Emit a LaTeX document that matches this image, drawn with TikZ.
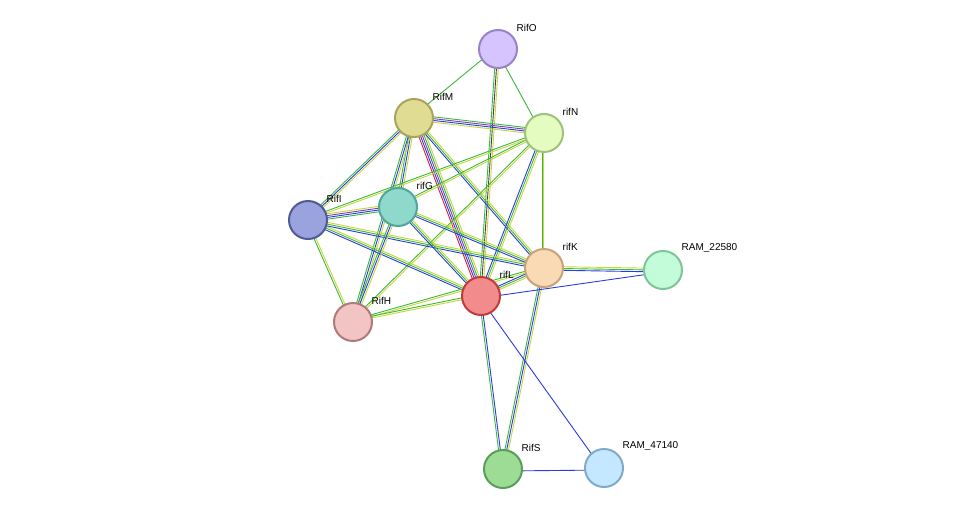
\documentclass[tikz,border=0pt]{standalone}
\usepackage{fontspec}
\setmainfont{Liberation Sans}
\usetikzlibrary{calc}
\definecolor{lgreen}{HTML}{3CB83C}
\definecolor{lblue}{HTML}{2B3BE0}
\definecolor{lpurple}{HTML}{7A3FB8}
\definecolor{lyellow}{HTML}{C5D83A}
\definecolor{lred}{HTML}{E02020}
\definecolor{ldark}{HTML}{444444}
\definecolor{oline}{HTML}{9A82C8}\definecolor{ofill}{HTML}{D5C4FF}
\definecolor{mline}{HTML}{A8A55A}\definecolor{mfill}{HTML}{E0DC94}
\definecolor{nline}{HTML}{9EC27A}\definecolor{nfill}{HTML}{E4FCC0}
\definecolor{iline}{HTML}{4F5A96}\definecolor{ifill}{HTML}{9AA3DE}
\definecolor{gline}{HTML}{4FA69A}\definecolor{gfill}{HTML}{8ED8CC}
\definecolor{kline}{HTML}{C9A27A}\definecolor{kfill}{HTML}{FAD9B5}
\definecolor{Lline}{HTML}{C33A3A}\definecolor{Lfill}{HTML}{F28C8C}
\definecolor{hline}{HTML}{B07A7A}\definecolor{hfill}{HTML}{F2C4C4}
\definecolor{aline}{HTML}{80C49A}\definecolor{afill}{HTML}{C2FCD8}
\definecolor{sline}{HTML}{5A9E5A}\definecolor{sfill}{HTML}{9CDC94}
\definecolor{bline}{HTML}{80AAC8}\definecolor{bfill}{HTML}{C4E8FF}
\tikzset{
  prot/.style={circle, minimum size=38pt, inner sep=0pt, line width=2pt},
  plabel/.style={font=\fontsize{10}{11}\selectfont, anchor=south west, xshift=1pt}
}
% parallel coloured lines between two nodes
\newcommand{\edge}[3]{%
  \foreach \c [count=\i] in {#3} {
    \pgfmathsetmacro{\off}{(\i-1)*1.8-2}
    \draw[\c, line width=0.9pt] ($(#1)!\off pt!90:(#2)$) -- ($(#2)!\off pt!-90:(#1)$);
  }}
\begin{document}
\begin{tikzpicture}[x=1pt, y=-1pt]
\useasboundingbox[fill=white] (0,0) rectangle (976,515);
% coordinates of the proteins
\coordinate (O) at (498,49);
\coordinate (M) at (414,118);
\coordinate (N) at (544,133);
\coordinate (I) at (308,220);
\coordinate (G) at (398,207);
\coordinate (K) at (544,268);
\coordinate (L) at (481,296);
\coordinate (H) at (353,322);
\coordinate (A) at (663,270);
\coordinate (S) at (503,469);
\coordinate (B) at (604,468);
% links
\edge{O}{M}{lgreen}
\edge{O}{N}{lgreen}
\edge{O}{L}{lgreen,ldark,lyellow}
\edge{M}{N}{lyellow,lblue,lpurple,lgreen}
\edge{M}{I}{lgreen,lblue,lyellow}
\edge{M}{G}{lgreen,lblue,lyellow}
\edge{M}{L}{lred,lblue,lpurple,lgreen,lyellow}
\edge{M}{K}{lblue,lgreen,lyellow}
\edge{M}{H}{lgreen,lblue,lyellow}
\edge{N}{G}{lgreen,lyellow}
\edge{N}{I}{lgreen,lyellow}
\edge{N}{L}{lblue,lgreen,lyellow}
\edge{N}{K}{lgreen,lyellow}
\edge{N}{H}{lgreen,lyellow}
\edge{I}{G}{lgreen,lblue,lpurple,lyellow}
\edge{I}{L}{lblue,lgreen,lyellow}
\edge{I}{K}{lblue,lgreen,lyellow}
\edge{I}{H}{lgreen,lyellow}
\edge{G}{L}{lblue,lgreen,lyellow}
\edge{G}{K}{lblue,lgreen,lyellow}
\edge{G}{H}{lgreen,lblue,lyellow}
\edge{K}{L}{lblue,lgreen,lyellow}
\edge{K}{A}{lblue,lgreen,lyellow}
\edge{K}{S}{lgreen,lblue,lyellow}
\edge{K}{H}{lgreen,lyellow}
\edge{L}{A}{lblue}
\edge{L}{H}{lgreen,lyellow}
\edge{L}{S}{lgreen,lblue}
\edge{L}{B}{lblue}
\edge{S}{B}{lblue}
% proteins
\node[prot, draw=oline, fill=ofill] (RifO) at (O) {};
\node[prot, draw=mline, fill=mfill] (RifM) at (M) {};
\node[prot, draw=nline, fill=nfill] (rifN) at (N) {};
\node[prot, draw=iline, fill=ifill] (RifI) at (I) {};
\node[prot, draw=gline, fill=gfill] (rifG) at (G) {};
\node[prot, draw=kline, fill=kfill] (rifK) at (K) {};
\node[prot, draw=Lline, fill=Lfill] (rifL) at (L) {};
\node[prot, draw=hline, fill=hfill] (RifH) at (H) {};
\node[prot, draw=aline, fill=afill] (RAM22580) at (A) {};
\node[prot, draw=sline, fill=sfill] (RifS) at (S) {};
\node[prot, draw=bline, fill=bfill] (RAM47140) at (B) {};
% labels
\foreach \n/\t in {RifO/RifO, RifM/RifM, rifN/rifN, RifI/RifI, rifG/rifG, rifK/rifK,
  rifL/rifL, RifH/RifH, RAM22580/RAM\_22580, RifS/RifS, RAM47140/RAM\_47140}
  \node[plabel] at (\n.45) {\t};
\end{tikzpicture}
\end{document}
